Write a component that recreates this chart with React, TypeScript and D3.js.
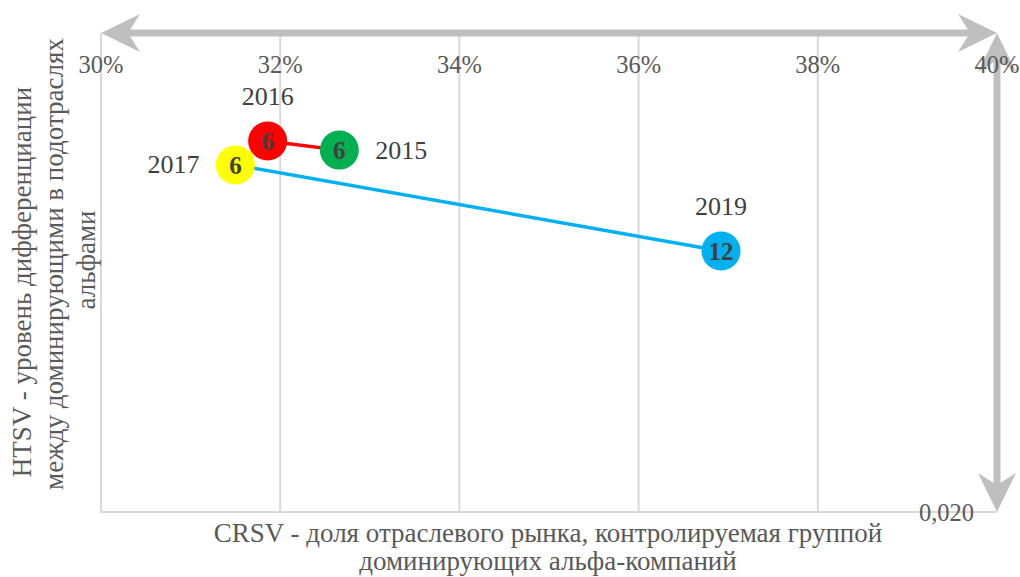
import * as d3 from "d3"

const years = ["2015", "2016", "2017", "2019"]
const crsv = [0.3266, 0.3186, 0.3150, 0.3692]
const htsv = [0.00489, 0.00451, 0.00551, 0.0091]
const counts = [6, 6, 6, 12]
const colors = ["#00B050", "#FF0000", "#FFFF00", "#00B0F0"]
const xTicks = [0.30, 0.32, 0.34, 0.36, 0.38, 0.40]
const yTickLabel = "0,020"

// label placement for each year: [dx, dy, anchor]
const labelPos: [number, number, string][] = [
  [36, 9, "start"],
  [0, -36, "middle"],
  [-36, 8, "end"],
  [0, -36, "middle"],
]

const W = 1020
const H = 577
const FONT = "Liberation Serif, DejaVu Serif, serif"
const AXIS_GRAY = "#bfbfbf"

function arrowHead(tx: number, ty: number, dx: number, dy: number) {
  // stealth arrow, tip at (tx,ty), pointing along (dx,dy)
  const len = 39, half = 19, notch = 27
  const px = -dy, py = dx
  const bx = tx - dx * len, by = ty - dy * len
  const nx = tx - dx * notch, ny = ty - dy * notch
  return `M${tx},${ty}L${bx + px * half},${by + py * half}L${nx},${ny}L${bx - px * half},${by - py * half}Z`
}

export default function App() {
  const x = d3.scaleLinear().domain([0.30, 0.40]).range([101, 997])
  const y = d3.scaleLinear().domain([0, 0.020]).range([33, 512])
  const pct = d3.format(".0%")

  const pts = years.map((yr, i) => ({ yr, cx: x(crsv[i]), cy: y(htsv[i]), n: counts[i], c: colors[i] }))
  const yTop = y(0)
  const yBot = y(0.020)
  const xL = x(0.30)
  const xR = x(0.40)

  // segments: 2015->2016 red, 2016->2017 yellow, 2017->2019 blue (colour of later point)
  const segs = [
    { a: pts[0], b: pts[1], c: colors[1] },
    { a: pts[1], b: pts[2], c: colors[2] },
    { a: pts[2], b: pts[3], c: colors[3] },
  ]

  const titleY = ["HTSV - уровень дифференциации", "между доминирующими в подотраслях", "альфами"]

  return (
    <svg width={W} height={H} style={{ position: "absolute", left: 0, top: 0 }} fontFamily={FONT}>
      <rect width={W} height={H} fill="#fff" />
      {/* gridlines */}
      {xTicks.slice(1, -1).map(t => (
        <line key={t} x1={x(t)} x2={x(t)} y1={yTop + 2} y2={yBot} stroke="#d9d9d9" strokeWidth={2} />
      ))}
      <line x1={xL} x2={xL} y1={yTop} y2={yBot + 1} stroke="#d9d9d9" strokeWidth={2} />
      <line x1={xL} x2={xR} y1={yBot} y2={yBot} stroke="#d9d9d9" strokeWidth={2} />

      {/* big arrows */}
      <line x1={xL + 25} x2={xR - 25} y1={yTop} y2={yTop} stroke={AXIS_GRAY} strokeWidth={7} />
      <path d={arrowHead(xL, yTop, -1, 0)} fill={AXIS_GRAY} />
      <path d={arrowHead(xR, yTop, 1, 0)} fill={AXIS_GRAY} />
      <line x1={xR} x2={xR} y1={yTop + 25} y2={yBot - 25} stroke={AXIS_GRAY} strokeWidth={7} />
      <path d={arrowHead(xR, yTop, 0, -1)} fill={AXIS_GRAY} />
      <path d={arrowHead(xR, yBot, 0, 1)} fill={AXIS_GRAY} />

      {/* tick labels */}
      {xTicks.map(t => (
        <text key={t} x={x(t)} y={73} textAnchor="middle" fontSize={24.5} fill="#595959" fontFamily={FONT}>{pct(t)}</text>
      ))}
      <text x={xR - 23} y={yBot + 9} textAnchor="end" fontSize={24.5} fill="#595959" fontFamily={FONT}>{yTickLabel}</text>

      {/* series lines */}
      {segs.map((s, i) => (
        <line key={i} x1={s.a.cx} y1={s.a.cy} x2={s.b.cx} y2={s.b.cy} stroke={s.c} strokeWidth={3.5} />
      ))}

      {/* bubbles */}
      {pts.map((p, i) => (
        <g key={p.yr}>
          <circle cx={p.cx} cy={p.cy} r={19.5} fill={p.c} />
          <text x={p.cx} y={p.cy + 9} textAnchor="middle" fontSize={25} fontWeight="bold" fill="#404040" fontFamily={FONT}>{p.n}</text>
          <text x={p.cx + labelPos[i][0]} y={p.cy + labelPos[i][1]} textAnchor={labelPos[i][2]} fontSize={26} fill="#404040" fontFamily={FONT}>{p.yr}</text>
        </g>
      ))}

      {/* axis titles */}
      <text x={548} y={542} textAnchor="middle" fontSize={27} fill="#595959" fontFamily={FONT}>CRSV - доля отраслевого рынка, контролируемая группой</text>
      <text x={548} y={570} textAnchor="middle" fontSize={27} fill="#595959" fontFamily={FONT}>доминирующих альфа-компаний</text>

      {titleY.map((t, i) => (
        <g key={t} transform={`translate(${31 + i * 32},${[282, 264, 260][i]}) rotate(-90)`}>
          <text x={0} y={0} textAnchor="middle" fontSize={27} fill="#595959" fontFamily={FONT}>{t}</text>
        </g>
      ))}
    </svg>
  )
}
